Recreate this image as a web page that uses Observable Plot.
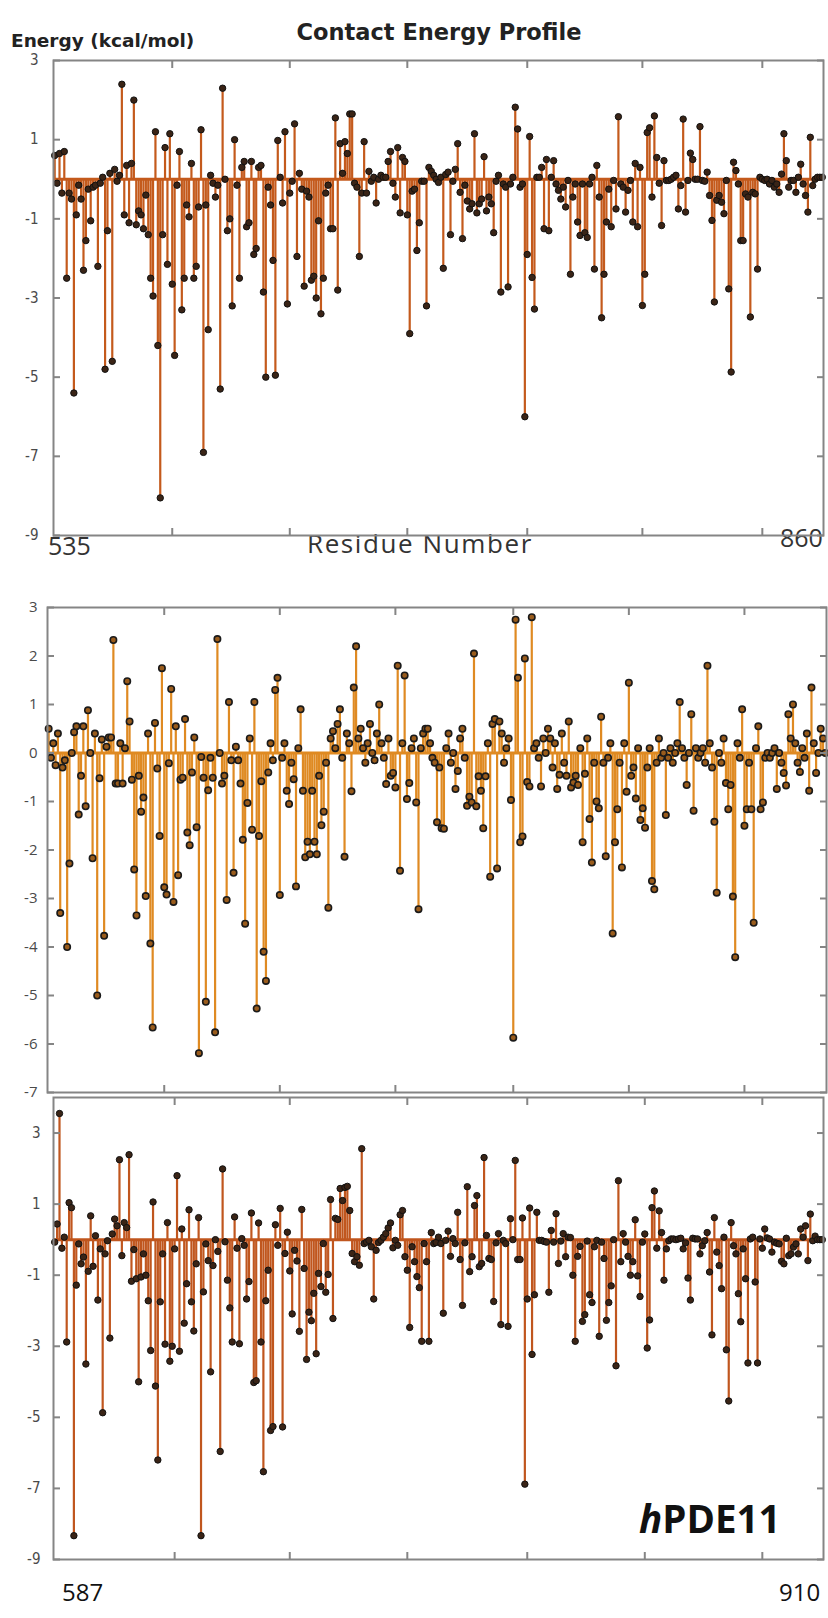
<!DOCTYPE html>
<html><head><meta charset="utf-8">
<script src="https://cdn.jsdelivr.net/npm/d3@7"></script>
<script src="https://cdn.jsdelivr.net/npm/@observablehq/plot@0.6"></script>
<style>
html,body{margin:0;padding:0;background:#fff;}
#wrap{position:relative;width:828px;height:1618px;overflow:hidden;background:#fff;}
.t{position:absolute;white-space:nowrap;line-height:1;}
#title{left:189px;width:500px;text-align:center;top:19px;font:bold 22.5px "DejaVu Sans",sans-serif;color:#222;}
#ylab{left:11px;top:30px;font:bold 18.5px "DejaVu Sans",sans-serif;color:#222;}
.num{font-family:"Open Sans",sans-serif;color:#333;}
</style></head><body>
<div id="wrap">
  <div class="t" id="title">Contact Energy Profile</div>
  <div class="t" id="ylab">Energy (kcal/mol)</div>
  <div class="t num" style="left:48px;top:533px;font-size:25px;">535</div>
  <div class="t num" style="left:307px;top:530px;font-size:26px;letter-spacing:1.6px;">Residue Number</div>
  <div class="t num" style="left:780px;top:525px;font-size:25px;">860</div>
  <div class="t num" style="left:62px;top:1580px;font-size:24px;color:#111;">587</div>
  <div class="t num" style="left:779px;top:1580px;font-size:24px;color:#111;">910</div>
  <div class="t" style="left:639px;top:1492px;font:bold 38.5px 'Open Sans',sans-serif;color:#111;"><i>h</i>PDE11</div>
</div>
<script>
// ---- data (one per residue) ----
const p1Start = 535;
const p1Energy = [0.6,-0.1,0.65,-0.35,0.7,-2.5,-0.35,-0.5,-5.4,-0.9,-0.15,-0.5,-2.3,-1.55,-0.25,-1.05,-0.2,-0.15,-2.2,-0.1,0.05,-4.8,-1.3,0.15,-4.6,0.25,-0.05,0.1,2.4,-0.9,0.35,-1.1,0.4,2.0,-1.15,-0.8,-0.9,-1.25,-0.4,-1.4,-2.5,-2.95,1.2,-4.2,-8.05,-1.4,0.8,-2.15,1.15,-2.65,-4.45,-0.15,0.7,-3.3,-2.5,-0.65,-0.95,0.4,-2.5,-2.2,-0.7,1.25,-6.9,-0.65,-3.8,0.1,-0.1,-0.45,-0.15,-5.3,2.3,0.0,-1.3,-1.0,-3.2,1.0,-0.15,
-2.5,0.3,0.45,-1.2,-1.1,0.45,-1.9,-1.75,0.3,0.35,-2.85,-5.0,-0.2,-0.65,-2.05,-4.95,0.98,0.05,-0.6,1.2,-3.15,-0.35,-0.05,1.4,-1.95,0.15,-0.25,-2.7,-0.3,-0.45,-2.55,-2.45,-3.0,-1.05,-3.4,-2.5,-0.35,-0.15,-1.25,-1.25,1.55,-2.8,0.9,0.15,0.95,0.65,1.65,1.65,-0.1,-0.2,-1.95,-0.35,0.95,-0.35,0.2,-0.05,0.05,-0.6,0.0,0.1,0.05,0.05,0.45,0.7,-0.1,-0.45,0.8,-0.85,0.55,0.45,-0.9,-3.9,-0.3,-0.25,-1.8,-1.1,-0.05,-0.05,-3.2,0.3,0.2,0.1,
0.0,-0.08,0.05,-2.25,0.12,0.18,-1.4,-0.05,0.25,0.9,-0.33,-1.5,-0.15,-0.55,-0.75,-0.62,1.15,-0.85,-0.62,-0.5,0.57,-0.8,-0.45,-0.62,-1.35,-0.05,0.1,-2.85,-0.12,-0.2,-2.72,-0.12,0.05,1.82,1.27,-0.2,-0.12,-6.0,-1.9,1.08,-2.48,-3.28,0.05,0.05,0.3,-1.25,0.5,-1.3,0.05,0.47,-0.12,-0.28,-0.5,-0.2,-0.7,-0.03,-2.4,-0.45,-0.12,-1.08,-1.42,-0.12,-1.35,-1.47,-0.12,0.05,-2.27,0.35,-0.45,-3.5,-2.4,-1.08,-0.25,-1.2,-0.03,-0.75,1.58,-0.12,-0.2,-0.83,-0.28,-0.03,-1.08,0.4,
-1.2,0.3,-3.19,-2.4,1.18,1.3,-0.45,1.6,0.55,-0.1,-1.17,0.47,-0.03,-0.03,0.0,0.05,0.1,-0.75,-0.16,1.52,-0.83,-0.03,0.66,0.5,0.0,0.0,1.33,-0.03,-0.05,0.18,-0.41,-1.04,-3.1,-0.53,-0.41,-0.58,-0.87,-0.03,-2.77,-4.87,0.43,0.22,-0.12,-1.55,-1.55,-0.37,-0.45,-3.48,-0.33,-0.37,-2.27,0.05,0.0,-0.03,0.0,-0.12,-0.03,-0.2,-0.12,-0.33,0.13,1.15,0.47,-0.2,-0.03,-0.03,-0.33,0.05,0.38,-0.12,-0.41,-0.83,1.06,-0.16,0.0,0.05,0.05,0.05];

const p2Start = 535;
const p2Energy = [0.5,-0.1,0.2,-0.25,0.4,-3.3,-0.3,-0.15,-4.0,-2.28,0.0,0.43,0.55,-1.27,-0.47,0.55,-1.1,0.88,0.0,-2.17,0.4,-5.0,-0.52,0.28,-3.77,0.13,0.32,0.32,2.33,-0.63,-0.63,0.2,-0.63,0.1,1.48,0.65,-0.55,-2.4,-3.35,-0.47,-1.21,-0.92,-2.95,0.4,-3.93,-5.66,0.62,-0.32,-1.71,1.75,-2.77,-2.92,-0.21,1.32,-3.07,0.55,-2.52,-0.55,-0.51,0.7,-1.64,-1.9,-0.4,0.32,-1.53,-6.19,-0.08,-0.51,-5.13,-0.77,-0.1,-0.51,-5.76,2.35,0.0,-0.63,-0.47,-3.03,1.05,-0.15,-2.47,0.13,-0.15,-0.63,-1.79,
-3.52,-1.03,0.3,-1.58,1.05,-5.27,-1.71,-0.58,-4.1,-4.7,-0.4,0.2,-0.15,1.3,1.55,-2.93,-0.1,0.2,-0.78,-1.05,-0.2,-0.54,-2.75,0.1,0.9,-0.78,-2.15,-1.83,-2.09,-0.78,-1.83,-2.09,-0.47,-1.49,-1.21,-0.2,-3.19,0.3,0.45,0.1,0.6,0.9,-0.1,-2.14,0.4,0.2,-0.79,1.35,2.2,0.3,0.5,0.1,-0.2,0.2,0.6,0.0,-0.15,0.4,1.0,0.2,-0.1,-0.64,0.3,-0.47,-0.41,-0.71,1.8,-2.43,0.2,1.6,-0.95,-0.62,0.1,0.3,-1.02,-3.22,0.1,0.4,0.5,0.5,0.2,-0.1,-0.2,-1.43,-0.3,-1.55,
-1.56,0.1,0.4,-0.2,0.0,-0.74,-0.37,0.3,0.5,-0.1,-1.09,-0.9,-1.02,2.05,-1.1,-0.48,-0.78,-1.55,-0.48,0.2,-2.55,0.6,0.7,-2.38,0.65,0.4,-0.2,0.1,0.3,-0.97,-5.87,2.75,1.55,-1.84,-1.72,1.95,-0.6,-0.69,2.8,0.1,0.2,-0.1,-0.69,0.3,0.0,0.5,0.3,-0.3,0.2,-0.74,-0.45,0.4,-0.2,-0.47,0.65,-0.71,-0.61,-0.47,-0.66,0.1,-1.84,-0.43,0.3,-1.36,-2.26,-0.2,-1.0,-1.14,0.75,-0.2,-2.13,-0.1,0.2,-3.72,-1.84,-1.16,-0.2,-2.36,0.2,-0.8,1.45,-0.47,-0.3,-0.94,0.1,-1.38,
-1.14,-1.54,-0.3,0.1,-2.64,-2.81,-0.2,0.3,-0.1,0.0,-1.28,-0.1,0.1,-0.2,0.0,0.2,1.05,0.1,-0.1,-0.66,0.0,0.8,-1.19,0.1,-0.1,0.0,0.1,-0.2,1.8,0.2,-0.3,-1.42,-2.88,0.0,-0.2,0.3,-0.62,-1.16,-0.66,-2.96,-4.21,0.2,-0.1,0.9,-1.5,-1.16,-0.2,-1.16,-3.5,0.1,0.55,-1.16,-1.02,-0.1,0.0,-0.1,0.0,0.1,-0.74,0.0,-0.2,-0.41,-0.67,0.8,0.3,1.0,0.2,-0.2,-0.39,0.1,-0.1,0.4,-0.78,1.35,0.2,-0.41,0.0,0.5,0.3,0.0];

const p3Start = 587;
const p3Energy = [-0.07,0.44,3.55,-0.24,0.07,-2.88,1.04,0.9,-8.33,-1.28,-0.12,-0.68,-0.49,-3.5,-0.89,0.67,-0.75,0.11,-1.7,-0.26,-4.87,-0.4,-0.03,-2.77,0.16,0.58,0.39,2.25,-0.45,0.48,0.34,2.39,-1.17,-0.28,-1.1,-4.0,-1.05,-0.4,-1.0,-1.72,-3.12,1.06,-4.12,-6.2,-1.75,-0.4,-2.94,0.48,-3.42,-3.0,-0.26,1.8,-3.14,0.3,-2.35,-1.24,0.84,-1.75,-2.57,-0.68,0.62,-8.33,-1.47,-0.12,-0.59,-3.72,-0.73,0.0,-0.33,-5.96,1.99,-0.06,-1.14,-1.92,-2.88,0.64,-0.24,
-2.93,0.03,-0.16,-1.67,-1.18,0.75,-4.02,-3.97,0.47,-2.88,-6.53,-1.72,-0.86,-5.37,-5.26,0.42,-0.16,0.88,-5.27,-0.39,0.21,-0.88,-2.09,-0.3,-0.6,-2.58,0.85,-0.81,-3.37,-2.04,-2.28,-1.51,-3.21,-0.95,-1.32,-0.11,-1.48,-0.98,1.13,-2.22,0.6,0.57,1.44,1.1,1.47,1.5,0.82,-0.39,-0.62,-0.48,-0.72,2.56,-0.11,-0.07,-0.02,-0.2,-1.67,-0.3,-0.08,-0.02,0.07,0.17,0.33,0.47,-0.23,-0.02,-0.16,0.7,0.82,-0.48,-0.86,-2.47,-0.2,-0.62,-1.04,-1.35,-2.86,-0.11,-0.62,-2.86,0.2,-0.11,-0.08,
0.07,-0.11,-2.07,-0.02,0.24,-0.47,0.03,-0.11,0.77,-0.56,-1.85,-0.09,1.49,-0.9,-0.48,0.96,1.24,-0.76,-0.67,2.31,0.12,-0.53,-0.56,-1.74,-0.09,0.17,-2.39,-0.02,-0.11,-2.44,0.59,0.0,2.23,-0.56,-0.56,0.61,-6.88,-1.67,0.89,-3.23,-1.55,0.77,-0.02,-0.02,-0.05,-0.07,-1.48,0.26,-0.07,0.73,-0.67,-0.04,0.17,-0.48,0.07,0.06,-1.0,-2.86,-0.47,-0.19,-2.3,-2.11,-0.04,-1.55,-1.77,-0.2,-0.02,-2.72,-0.07,-0.53,-2.27,-1.77,-1.3,0.0,-3.55,1.66,-0.62,0.17,-0.07,-0.47,-1.0,-0.62,0.56,-1.02,-1.6,
-0.07,0.16,-3.05,-2.26,0.9,1.37,-0.24,0.81,0.2,-1.14,-0.26,-0.03,0.02,0.02,0.0,0.02,0.04,-0.26,-0.09,-1.08,-1.7,0.04,0.02,0.02,-0.4,-0.17,-0.03,0.2,-0.91,-2.68,0.62,-0.35,-0.73,-1.38,0.07,-3.1,-4.54,0.48,-0.17,-0.4,-1.52,-2.31,-0.26,-1.1,-3.47,0.02,0.07,-1.19,-3.47,0.02,-0.24,0.3,0.05,0.02,-0.35,-0.07,-0.1,-0.12,-0.61,-0.68,0.04,-0.45,-0.4,-0.21,-0.12,-0.4,0.3,0.07,0.39,-0.59,0.72,-0.03,0.1,0.0,0.0,0.0];

// axis ticks
const p1YTicks = [3, 1, -1, -3, -5, -7, -9];
const p2YTicks = [3, 2, 1, 0, -1, -2, -3, -4, -5, -6, -7];
const p3YTicks = [3, 1, -1, -3, -5, -7, -9];
const p1XTicks = [584, 633, 682, 732, 780, 830];
const p2XTicks = [585, 635, 685, 736, 786, 836];
const p3XTicks = [637, 685, 734, 784, 833, 882];

const wrap = document.getElementById("wrap");
const frameGray = "#858585";

function makePanel(c) {
  const data = c.values.map((v, i) => ({residue: c.start + i, energy: v}));
  const n = c.values.length;
  const tickOpts = {tickFormat: () => "", stroke: frameGray, strokeWidth: 2};
  const chart = Plot.plot({
    width: 828, height: c.height,
    marginTop: c.mt, marginBottom: c.mb, marginLeft: c.ml, marginRight: c.mr,
    x: {domain: [c.start - 0.5, c.start + n - 0.5], label: null},
    y: {domain: c.yDomain, label: null},
    style: {fontFamily: c.font, fontSize: c.fontSize + "px", color: "#4a4a4a", background: "transparent", overflow: "visible"},
    marks: [
      Plot.ruleY([0], {stroke: c.stem, strokeWidth: 3}),
      Plot.ruleX(data, {x: "residue", y1: 0, y2: "energy", stroke: c.stem, strokeWidth: 2.2}),
      Plot.dot(data, {x: "residue", y: "energy", r: 3.2, fill: c.dotFill, stroke: c.dotStroke, strokeWidth: c.dotSW}),
      Plot.frame({stroke: frameGray, strokeWidth: 2}),
      Plot.axisY(c.yTicks, {anchor: "left", tickSize: 0, tickPadding: c.pad, tickFormat: d => String(d), fill: "#4a4a4a"}),
      Plot.axisY(c.yTicks, {anchor: "left", tickSize: -7, ...tickOpts}),
      Plot.axisY(c.yTicks, {anchor: "right", tickSize: -7, ...tickOpts}),
      Plot.axisX(c.xTicks, {anchor: "bottom", tickSize: -7, ...tickOpts}),
      Plot.axisX(c.xTicks, {anchor: "top", tickSize: -7, ...tickOpts})
    ]
  });
  chart.style.position = "absolute";
  chart.style.left = "0px";
  chart.style.top = c.top + "px";
  wrap.appendChild(chart);
}

const narrow = "'Liberation Sans Narrow','DejaVu Sans Condensed','Liberation Sans',sans-serif";

makePanel({values: p1Energy, start: p1Start, yDomain: [-9, 3], yTicks: p1YTicks, xTicks: p1XTicks,
  top: 0, height: 560, mt: 60, mb: 25, ml: 53, mr: 5, pad: 15,
  stem: "#c45a1c", dotFill: "#3a2416", dotStroke: "#111", dotSW: 1, font: narrow, fontSize: 15});

makePanel({values: p2Energy, start: p2Start, yDomain: [-7, 3], yTicks: p2YTicks, xTicks: p2XTicks,
  top: 560, height: 540, mt: 47, mb: 8, ml: 47, mr: 2, pad: 10,
  stem: "#df8a22", dotFill: "#9a5c1c", dotStroke: "#1a1a1a", dotSW: 1.6, font: "'Open Sans',sans-serif", fontSize: 15});

makePanel({values: p3Energy, start: p3Start, yDomain: [-9, 4], yTicks: p3YTicks, xTicks: p3XTicks,
  top: 1090, height: 500, mt: 7, mb: 31, ml: 53, mr: 5, pad: 13,
  stem: "#c0561e", dotFill: "#3a2416", dotStroke: "#111", dotSW: 1, font: narrow, fontSize: 15});
</script>
</body></html>
